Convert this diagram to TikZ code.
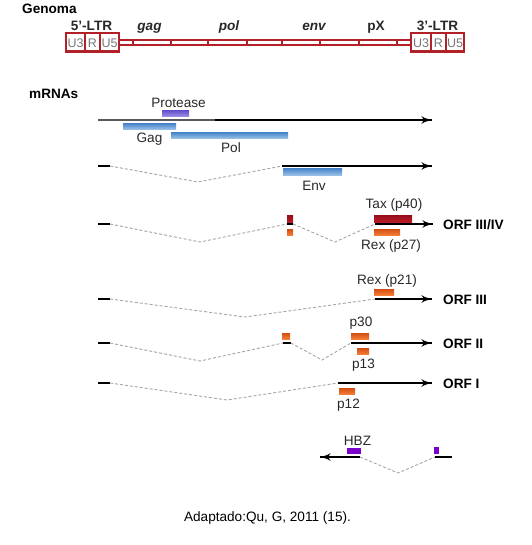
\documentclass[tikz,border=0pt]{standalone}
\usepackage{fontspec}
\setmainfont{Liberation Sans}
\usepackage{tikz}
\usetikzlibrary{arrows}
\usetikzlibrary{decorations.markings}
\definecolor{ltrred}{RGB}{178,32,40}
\definecolor{ltrgray}{RGB}{120,120,120}
\definecolor{labelgray}{RGB}{40,40,40}
\definecolor{introngray}{RGB}{165,165,165}
\definecolor{blueTop}{RGB}{78,138,204}
\definecolor{blueBot}{RGB}{165,200,235}
\definecolor{protTop}{RGB}{105,85,205}
\definecolor{protBot}{RGB}{160,148,230}
\definecolor{taxTop}{RGB}{150,12,26}
\definecolor{taxBot}{RGB}{185,30,40}
\definecolor{rexTop}{RGB}{212,78,20}
\definecolor{rexBot}{RGB}{242,125,55}
\definecolor{hbzviolet}{RGB}{122,0,204}
\tikzset{orf/.style = {decoration={markings,
                                   mark=at position 1 with {\arrow[scale=1.6]{latex'}}},
                       postaction={decorate}}}

\begin{document}
\begin{tikzpicture}[x=1pt, y=-1pt,
    lbl/.style = {inner sep=0pt, anchor=base, text=labelgray,
                  font=\fontsize{13.6}{16}\selectfont},
    head/.style = {inner sep=0pt, anchor=base west,
                   font=\bfseries\fontsize{13.6}{16}\selectfont},
    gene/.style = {inner sep=0pt, anchor=base, text=labelgray,
                   font=\bfseries\fontsize{13.6}{16}\selectfont},
    ltr/.style = {inner sep=0pt, text=ltrgray, font=\fontsize{12.5}{14}\selectfont},
    genome/.style = {draw=ltrred, line width=2.4pt},
    exon/.style = {draw=black, line width=1.3pt},
    intron/.style = {draw=introngray, line width=0.9pt, dash pattern=on 3pt off 2pt},
    bluebar/.style = {top color=blueTop, bottom color=blueBot},
    protbar/.style = {top color=protTop, bottom color=protBot},
    taxbar/.style = {top color=taxTop, bottom color=taxBot},
    rexbar/.style = {top color=rexTop, bottom color=rexBot}]
  \useasboundingbox (0,0) rectangle (531,545);

  \node [head] (genoma) at (22,14) {Genoma};
  \node [gene] (ltr5) at (91.5,31) {5'-LTR};
  \node [gene] (gag) at (149.5,31) {\itshape gag};
  \node [gene] (pol) at (229,31) {\itshape pol};
  \node [gene] (env) at (314,31) {\itshape env};
  \node [gene] (px) at (376,31) {pX};
  \node [gene] (ltr3) at (437.5,31) {3'-LTR};

  \draw [genome, line width=2pt] (119,40.5) rectangle (411,45.5);
  \foreach \x in {133,171,208,247,282,320,359,397}
    \draw [genome, line width=2pt] (\x,40.5) -- (\x,45.5);
  \foreach \a/\b/\t [count=\i] in {66/85/U3,85/100/R,100/119/U5,411/431/U3,431/446/R,446/464/U5} {
    \draw [genome, fill=white] (\a,33.3) rectangle (\b,51.7);
    \node [ltr] (box\i) at ({(\a+\b)/2},43) {\t};
  }

  \node [head] (mrnas) at (29,99) {mRNAs};

  % gag / pol
  \draw [line width=1.1pt, draw=black!65] (98,120) -- (215,120);
  \draw [exon, orf] (215,120) -- (432,120);
  \shade [protbar] (162,111) rectangle (189,117);
  \shade [bluebar] (123,124) rectangle (176,130);
  \shade [bluebar] (171,133) rectangle (288,139);
  \node [lbl] (protease) at (178.5,108) {Protease};
  \node [lbl] (gaglbl) at (149.5,143) {Gag};
  \node [lbl] (pollbl) at (231,153) {Pol};

  % env
  \draw [exon] (98,166) -- (110,166);
  \draw [intron] (110,166) -- (198,182) -- (282,166);
  \draw [exon, orf] (282,166) -- (432,166);
  \shade [bluebar] (283,169) rectangle (342,176);
  \node [lbl] (envlbl) at (314,191) {Env};

  % tax / rex
  \draw [exon] (98,224) -- (110,224);
  \draw [intron] (110,224) -- (200,242) -- (287,224);
  \draw [exon] (287,224) -- (293,224);
  \draw [intron] (293,224) -- (335,242) -- (375,224);
  \draw [exon, orf] (375,224) -- (433,224);
  \shade [taxbar] (287,215) rectangle (293,222);
  \shade [rexbar] (287,229) rectangle (293,235);
  \shade [taxbar] (374,215) rectangle (412,222);
  \shade [rexbar] (374,229) rectangle (400,235);
  \node [lbl] (tax) at (394,208) {Tax (p40)};
  \node [lbl] (rex27) at (391,249) {Rex (p27)};
  \node [head] (orf34) at (443,229) {ORF III/IV};

  % rex p21
  \draw [exon] (98,299) -- (110,299);
  \draw [intron] (110,299) -- (245,317) -- (375,299);
  \draw [exon, orf] (375,299) -- (432,299);
  \shade [rexbar] (374,289) rectangle (394,295);
  \node [lbl] (rex21) at (387,284) {Rex (p21)};
  \node [head] (orf3) at (443,304) {ORF III};

  % p30 / p13
  \draw [exon] (98,343) -- (110,343);
  \draw [intron] (110,343) -- (200,361) -- (283,343);
  \draw [exon] (283,343) -- (291,343);
  \draw [intron] (291,343) -- (322,360) -- (351,343);
  \draw [exon, orf] (351,343) -- (432,343);
  \shade [rexbar] (282,333) rectangle (290,339);
  \shade [rexbar] (351,333) rectangle (369,339);
  \shade [rexbar] (357,348) rectangle (369,354);
  \node [lbl] (p30) at (361,326) {p30};
  \node [lbl] (p13) at (363.5,368) {p13};
  \node [head] (orf2) at (443,348) {ORF II};

  % p12
  \draw [exon] (98,383) -- (110,383);
  \draw [intron] (110,383) -- (227,400) -- (338,383);
  \draw [exon, orf] (338,383) -- (432,383);
  \shade [rexbar] (339,388) rectangle (355,394);
  \node [lbl] (p12) at (348.5,408) {p12};
  \node [head] (orf1) at (443,388) {ORF I};

  % antisense
  \draw [exon, orf] (360,457) -- (320,457);
  \draw [intron] (360,457) -- (398,473) -- (435,457);
  \draw [exon] (435,457) -- (452,457);
  \fill [hbzviolet] (347,448) rectangle (361,454);
  \fill [hbzviolet] (434,447) rectangle (439,454);
  \node [lbl] (hbz) at (357.5,445) {HBZ};

  \node [lbl, text=black] (source) at (267.5,521) {Adaptado:Qu, G, 2011 (15).};
\end{tikzpicture}
\end{document}
